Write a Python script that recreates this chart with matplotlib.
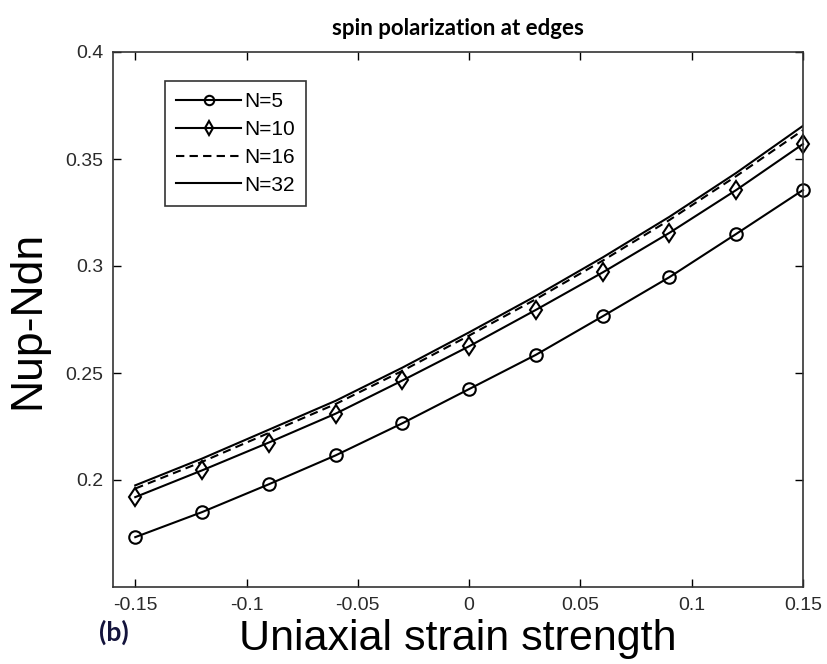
import matplotlib
matplotlib.use('Agg')
import matplotlib.pyplot as plt
import numpy as np

strain = [-0.15, -0.12, -0.09, -0.06, -0.03, 0.0, 0.03, 0.06, 0.09, 0.12, 0.15]

n5 = [0.1733, 0.185, 0.198, 0.2115, 0.2265, 0.2425, 0.2585, 0.2765, 0.2948, 0.3150, 0.3355]
n10 = [0.192, 0.2045, 0.2175, 0.231, 0.2465, 0.2625, 0.2795, 0.297, 0.3155, 0.3355, 0.357]
n16 = [0.196, 0.2085, 0.222, 0.2355, 0.251, 0.2675, 0.2845, 0.3025, 0.3215, 0.342, 0.3635]
n32 = [0.1975, 0.21, 0.2235, 0.237, 0.2525, 0.269, 0.286, 0.304, 0.323, 0.3435, 0.3655]

xticks = [-0.15, -0.1, -0.05, 0, 0.05, 0.1, 0.15]
xticklabels = ['-0.15', '-0.1', '-0.05', '0', '0.05', '0.1', '0.15']
yticks = [0.2, 0.25, 0.3, 0.35, 0.4]
yticklabels = ['0.2', '0.25', '0.3', '0.35', '0.4']

plt.rcParams['font.family'] = ['Liberation Sans', 'DejaVu Sans']

fig = plt.figure(figsize=(8.27, 6.64), dpi=100)
# axes box in pixels: left 113, right 803, top 52, bottom 587
ax = fig.add_axes([113 / 827, 1 - 587 / 664, 690 / 827, 535 / 664])

ax.plot(strain, n5, '-o', color='black', lw=1.5, ms=9, mfc='none', mew=1.5, label='N=5', clip_on=False)
ax.plot(strain, n10, '-d', color='black', lw=1.5, ms=9.5, mfc='none', mew=1.5, label='N=10', clip_on=False)
ax.plot(strain, n16, '--', color='black', lw=1.5, dashes=(4, 2.5), label='N=16')
ax.plot(strain, n32, '-', color='black', lw=1.5, label='N=32')

ax.set_xlim(-0.16, 0.15)
ax.set_ylim(0.15, 0.4)
ax.set_xticks(xticks)
ax.set_xticklabels(xticklabels)
ax.set_yticks(yticks)
ax.set_yticklabels(yticklabels)
ax.tick_params(direction='in', top=True, right=True, length=6, width=1,
               labelsize=14, labelcolor='#2a2a2a', pad=7)
for s in ax.spines.values():
    s.set_linewidth(1.2)
    s.set_color('#333333')

ax.set_xlabel('Uniaxial strain strength', fontsize=31, labelpad=4)
ax.set_ylabel('Nup-Ndn', fontsize=32, labelpad=12)
ax.set_title('spin polarization at edges', fontsize=16, fontweight='bold',
             family=['Lato', 'DejaVu Sans'], pad=12)

leg = ax.legend(loc='upper left', bbox_to_anchor=(0.0754, 0.946), borderaxespad=0,
                fontsize=15, frameon=True, fancybox=False, edgecolor='black',
                handlelength=3.1, borderpad=0.55, labelspacing=0.42,
                handletextpad=0.15, markerscale=0.75)
leg.get_frame().set_linewidth(1.2)

fig.text(99 / 827, 1 - 632 / 664, '(b)', fontsize=19, fontweight='bold',
         color='#14143c', family=['Lato', 'DejaVu Sans'], va='center')

fig.savefig('out.png', dpi=100)
